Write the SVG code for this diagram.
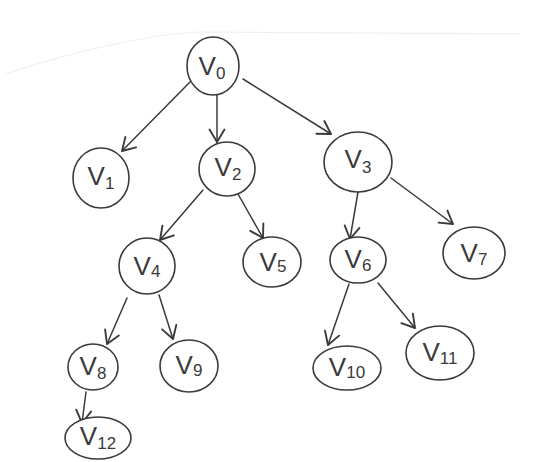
<svg xmlns="http://www.w3.org/2000/svg" width="540" height="462" viewBox="0 0 540 462">
  <style>
    .node { fill: #ffffff; stroke: #3a3a3a; stroke-width: 1.6; }
    .lbl { font-family: "Liberation Sans", "DejaVu Sans", sans-serif; font-size: 26px; fill: #3a3a3a; text-anchor: middle; }
    .sub { font-size: 17px; }
    .edge { fill: none; stroke: #3a3a3a; stroke-width: 1.5; stroke-linecap: round; }
    .paper { fill: none; stroke: #efefef; stroke-width: 1.2; }
  </style>
  <defs>
    <marker id="arrow" markerUnits="userSpaceOnUse" markerWidth="20" markerHeight="20" viewBox="-12 -8 14 16" refX="0" refY="0" orient="auto">
      <path d="M-10,-6 L0,0 L-10,6" fill="none" stroke="#3a3a3a" stroke-width="1.5" stroke-linecap="round" stroke-linejoin="round"/>
    </marker>
  </defs>

  <rect x="0" y="0" width="540" height="462" fill="#ffffff"/>
  <!-- faint sheet edge at the top -->
  <path class="paper" d="M6,74 C70,52 150,34 200,32 L520,34"/>

  <!-- connectors -->
  <g id="edges">
    <line class="edge" x1="190" y1="82" x2="122" y2="151" marker-end="url(#arrow)"/>
    <line class="edge" x1="217" y1="95" x2="217" y2="142" marker-end="url(#arrow)"/>
    <line class="edge" x1="243" y1="79" x2="331" y2="134" marker-end="url(#arrow)"/>
    <line class="edge" x1="203" y1="190" x2="160" y2="240" marker-end="url(#arrow)"/>
    <line class="edge" x1="238" y1="194" x2="263" y2="238" marker-end="url(#arrow)"/>
    <line class="edge" x1="358" y1="192" x2="350" y2="239" marker-end="url(#arrow)"/>
    <line class="edge" x1="391" y1="178" x2="453" y2="224" marker-end="url(#arrow)"/>
    <line class="edge" x1="127" y1="298" x2="107" y2="344" marker-end="url(#arrow)"/>
    <line class="edge" x1="159" y1="295" x2="173" y2="339" marker-end="url(#arrow)"/>
    <line class="edge" x1="349" y1="284" x2="328" y2="345" marker-end="url(#arrow)"/>
    <line class="edge" x1="378" y1="283" x2="415" y2="328" marker-end="url(#arrow)"/>
    <line class="edge" x1="86" y1="392" x2="82" y2="423" marker-end="url(#arrow)"/>
  </g>

  <!-- nodes -->
  <g id="v0"><ellipse class="node" cx="213" cy="66" rx="26" ry="29"/><text class="lbl" x="212" y="75">V<tspan class="sub" dy="4">0</tspan></text></g>
  <g id="v1"><ellipse class="node" cx="101" cy="178" rx="28" ry="30"/><text class="lbl" x="101" y="185">V<tspan class="sub" dy="4">1</tspan></text></g>
  <g id="v2"><ellipse class="node" cx="227" cy="169" rx="28" ry="27"/><text class="lbl" x="228" y="176">V<tspan class="sub" dy="4">2</tspan></text></g>
  <g id="v3"><ellipse class="node" cx="358" cy="162" rx="34" ry="30"/><text class="lbl" x="358" y="168">V<tspan class="sub" dy="5">3</tspan></text></g>
  <g id="v4"><ellipse class="node" cx="147" cy="266" rx="28" ry="28"/><text class="lbl" x="147" y="275">V<tspan class="sub" dy="2">4</tspan></text></g>
  <g id="v5"><ellipse class="node" cx="272" cy="262" rx="29" ry="25"/><text class="lbl" x="273" y="271">V<tspan class="sub" dy="1">5</tspan></text></g>
  <g id="v6"><ellipse class="node" cx="358" cy="260" rx="28" ry="23"/><text class="lbl" x="358" y="268">V<tspan class="sub" dy="3">6</tspan></text></g>
  <g id="v7"><ellipse class="node" cx="474" cy="253" rx="31" ry="26"/><text class="lbl" x="474" y="262">V<tspan class="sub" dy="3">7</tspan></text></g>
  <g id="v8"><ellipse class="node" cx="93" cy="367" rx="25" ry="23"/><text class="lbl" x="93" y="375">V<tspan class="sub" dy="4">8</tspan></text></g>
  <g id="v9"><ellipse class="node" cx="189" cy="366" rx="29" ry="26"/><text class="lbl" x="189" y="374">V<tspan class="sub" dy="2">9</tspan></text></g>
  <g id="v10"><ellipse class="node" cx="347" cy="368" rx="34" ry="22"/><text class="lbl" x="347" y="376">V<tspan class="sub" dy="2">10</tspan></text></g>
  <g id="v11"><ellipse class="node" cx="440" cy="353" rx="34" ry="27"/><text class="lbl" x="440" y="361">V<tspan class="sub" dy="3">11</tspan></text></g>
  <g id="v12"><ellipse class="node" cx="98" cy="438" rx="33" ry="21"/><text class="lbl" x="98" y="445">V<tspan class="sub" dy="4">12</tspan></text></g>
</svg>
